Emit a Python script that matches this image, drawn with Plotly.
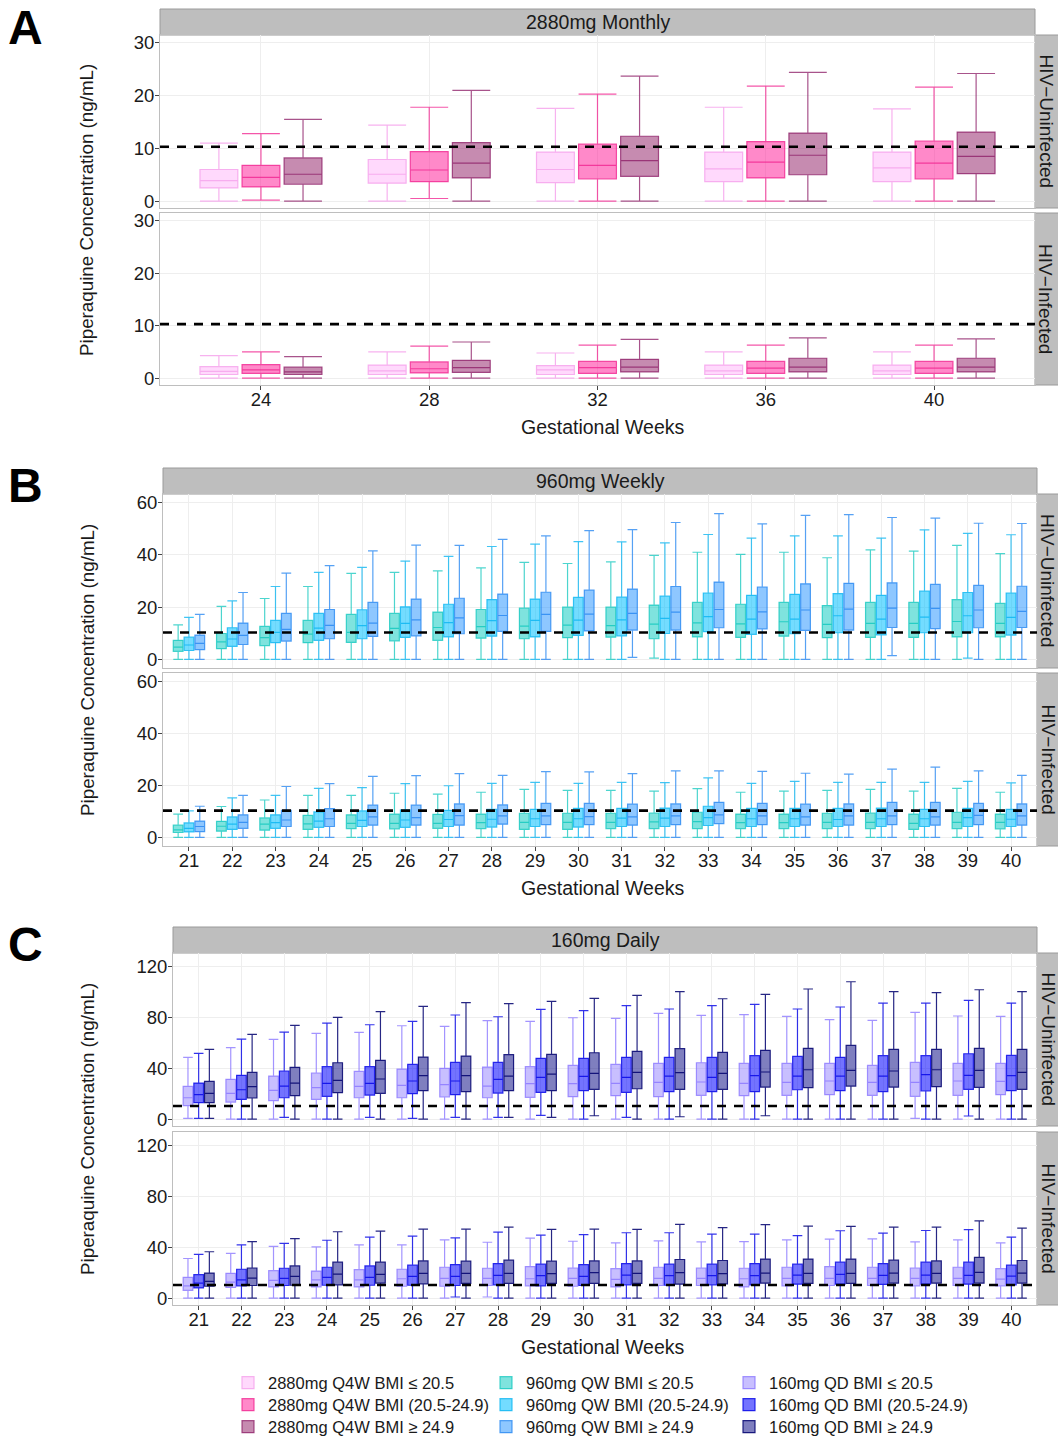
import plotly.graph_objects as go

# ---------------- DATA (lower whisker, q1, median, q3, upper whisker) ----------------
A_weeks = ["24", "28", "32", "36", "40"]
BC_weeks = [str(w) for w in range(21, 41)]

A_unin_bmi1 = [(0, 2.5, 3.9, 6.0, 11.0), (0, 3.4, 5.1, 7.9, 14.4), (0, 3.5, 6.0, 9.3, 17.6), (0, 3.7, 6.1, 9.3, 17.8), (0, 3.7, 6.3, 9.3, 17.5)]
A_unin_bmi2 = [(0.2, 2.7, 4.5, 6.8, 12.8), (0.5, 3.7, 5.9, 9.4, 17.8), (0, 4.2, 6.8, 10.8, 20.3), (0, 4.4, 7.4, 11.3, 21.8), (0, 4.2, 7.2, 11.4, 21.6)]
A_unin_bmi3 = [(0, 3.2, 5.1, 8.2, 15.5), (0, 4.4, 7.2, 11.1, 21.0), (0, 4.7, 7.7, 12.3, 23.7), (0, 5.0, 8.7, 12.9, 24.4), (0, 5.2, 8.5, 13.1, 24.2)]
A_inf_bmi1 = [(0, 0.7, 1.3, 2.2, 4.3), (0, 0.7, 1.4, 2.5, 5.0), (0, 0.7, 1.6, 2.4, 4.8), (0, 0.7, 1.4, 2.5, 5.0), (0, 0.7, 1.4, 2.5, 5.0)]
A_inf_bmi2 = [(0, 0.9, 1.6, 2.6, 5.0), (0, 1.0, 1.8, 3.1, 6.1), (0, 0.9, 2.0, 3.2, 6.3), (0, 0.9, 1.9, 3.2, 6.3), (0, 0.9, 1.9, 3.2, 6.3)]
A_inf_bmi3 = [(0, 0.7, 1.2, 2.1, 4.1), (0, 1.1, 2.0, 3.4, 6.9), (0, 1.2, 2.1, 3.6, 7.4), (0, 1.2, 2.1, 3.8, 7.7), (0, 1.2, 2.1, 3.8, 7.5)]

B_unin_bmi1 = [(0, 3.1, 4.7, 7.3, 13.2), (0, 4.1, 6.7, 9.9, 20.3), (0, 5.3, 8.3, 12.6, 23.3), (0, 6.4, 9.7, 14.9, 27.9),
               (0, 6.5, 10.3, 17.2, 32.9), (0, 7.1, 11.9, 17.6, 33.3), (0, 7.3, 12.2, 18.1, 33.9), (0, 8.1, 12.5, 19.1, 35.0),
               (0, 7.9, 12.7, 19.6, 37.1), (0, 8.3, 13.1, 20.0, 36.7), (0, 8.5, 12.9, 20.0, 37.3), (0.5, 7.9, 13.5, 20.8, 39.8),
               (0, 8.6, 14.0, 21.8, 41.0), (0, 8.4, 13.6, 21.1, 40.2), (0, 8.9, 14.4, 21.8, 41.0), (0, 8.3, 13.4, 20.6, 38.9),
               (0, 8.4, 13.8, 21.8, 41.9), (0, 8.4, 13.8, 21.8, 41.4), (0, 8.6, 14.5, 22.9, 43.6), (0, 8.6, 13.8, 21.4, 40.5)]
B_unin_bmi2 = [(0, 3.4, 5.5, 8.5, 16.1), (0, 5.0, 7.8, 12.1, 22.4), (0, 6.4, 10.3, 14.9, 27.9), (0, 7.3, 12.0, 17.6, 33.3),
               (0, 7.9, 12.9, 19.0, 35.2), (0, 8.4, 13.8, 20.1, 37.6), (0, 8.6, 14.1, 21.1, 39.4), (0, 8.9, 14.8, 22.9, 43.2),
               (0, 8.6, 14.9, 23.1, 44.1), (0, 9.2, 15.0, 23.7, 45.1), (0, 9.0, 15.1, 23.8, 45.0), (0, 9.9, 15.7, 24.2, 44.6),
               (0, 10.6, 16.4, 25.4, 47.8), (0, 9.6, 15.4, 24.5, 46.4), (0, 9.8, 15.4, 24.9, 47.3), (0, 10.2, 16.7, 25.2, 47.3),
               (0, 9.4, 15.4, 24.5, 46.4), (0, 10.2, 16.2, 26.1, 49.6), (0.5, 10.2, 16.7, 25.6, 48.2), (0, 9.3, 16.1, 25.4, 47.7)]
B_unin_bmi3 = [(0, 3.7, 6.1, 9.3, 17.2), (0, 5.7, 9.2, 13.9, 25.6), (0, 7.0, 11.5, 17.6, 33.0), (0, 7.9, 13.0, 19.1, 35.9),
               (0, 8.8, 13.9, 21.8, 41.5), (0, 9.0, 15.1, 23.1, 43.7), (0, 9.8, 15.9, 23.4, 43.6), (0, 10.7, 16.8, 25.0, 45.9),
               (0, 10.7, 17.2, 25.7, 47.3), (0, 10.9, 17.3, 26.5, 49.3), (0.8, 11.2, 17.6, 26.9, 49.7), (0, 11.2, 18.1, 27.9, 52.4),
               (0, 12.1, 19.1, 29.6, 55.8), (0, 11.7, 18.2, 27.7, 51.9), (0, 11.1, 18.9, 28.9, 55.1), (0, 11.2, 19.2, 29.1, 55.4),
               (1.4, 12.2, 19.6, 29.3, 54.3), (0, 11.8, 19.5, 28.7, 54.1), (0, 12.1, 18.9, 28.3, 52.1), (0, 12.2, 18.4, 28.0, 52.0)]
B_inf_bmi1 = [(0, 1.9, 2.9, 4.7, 9.0), (0, 2.4, 4.3, 6.2, 11.9), (0, 2.8, 5.1, 7.5, 14.4), (0, 3.1, 5.2, 8.5, 16.2),
              (0, 3.4, 5.4, 8.7, 16.2), (0, 3.3, 5.4, 9.0, 17.0), (0, 3.5, 5.4, 8.9, 16.7), (0, 3.4, 5.7, 9.0, 17.4),
              (0, 3.1, 5.8, 9.3, 18.5), (0, 3.1, 5.8, 9.3, 18.1), (0, 3.4, 5.8, 9.3, 18.1), (0, 3.4, 6.0, 9.4, 17.8),
              (0, 3.4, 6.1, 9.7, 18.8), (0, 3.4, 5.7, 9.0, 17.4), (0, 3.4, 5.7, 9.0, 17.8), (0, 3.4, 5.8, 9.3, 18.1),
              (0, 3.4, 5.8, 9.4, 18.5), (0, 3.1, 5.4, 9.0, 17.8), (0, 3.4, 5.8, 9.7, 18.9), (0, 3.3, 5.8, 9.0, 17.4)]
B_inf_bmi2 = [(0, 2.1, 3.5, 5.6, 10.2), (0, 3.1, 5.1, 7.9, 15.2), (0, 3.5, 5.7, 8.7, 16.2), (0, 3.9, 6.3, 9.8, 18.9),
              (0, 4.2, 6.6, 10.2, 19.2), (0, 3.9, 6.7, 10.6, 20.7), (0, 4.2, 6.9, 10.4, 19.9), (0, 4.0, 7.0, 10.8, 20.8),
              (0, 4.2, 7.2, 10.8, 21.2), (0, 4.0, 7.2, 11.2, 20.8), (0, 4.2, 7.4, 11.2, 21.2), (0, 4.2, 7.4, 11.3, 21.1),
              (0, 4.6, 7.6, 12.0, 22.9), (0, 4.2, 7.2, 11.2, 20.8), (0, 4.2, 7.2, 11.2, 21.6), (0, 4.2, 6.9, 11.2, 21.2),
              (0, 4.2, 7.2, 11.3, 21.2), (0, 4.2, 7.2, 10.8, 21.2), (0, 4.2, 7.6, 11.2, 21.6), (0, 4.2, 7.0, 10.8, 21.0)]
B_inf_bmi3 = [(0, 2.2, 4.2, 6.3, 12.0), (0, 3.5, 5.8, 8.7, 16.2), (0, 4.2, 6.7, 10.4, 19.6), (0, 4.2, 7.2, 11.1, 20.7),
              (0, 4.7, 7.9, 12.4, 23.5), (0, 4.7, 7.6, 12.4, 23.8), (0, 4.7, 8.4, 12.9, 24.6), (0, 5.1, 8.3, 12.5, 23.9),
              (0, 4.9, 8.3, 13.1, 25.3), (0, 4.9, 8.0, 13.1, 25.2), (0, 4.7, 7.9, 12.8, 24.6), (0, 4.9, 8.3, 12.9, 25.6),
              (0, 5.3, 8.7, 13.5, 25.6), (0, 4.9, 8.3, 13.1, 25.4), (0, 4.7, 7.9, 12.8, 24.7), (0, 4.7, 8.3, 12.9, 24.4),
              (0, 4.9, 8.3, 13.5, 26.3), (0, 4.7, 7.9, 13.5, 27.1), (0, 4.9, 8.5, 13.1, 25.6), (0, 4.7, 8.3, 12.9, 23.9)]

C_unin_bmi1 = [(0.5, 10.5, 16.8, 25.8, 48.7), (0, 13.4, 20.3, 31.3, 56.3), (0, 14.5, 22.6, 33.9, 62.9), (0, 15.5, 24.7, 36.3, 67.6),
               (0, 16.8, 25.8, 37.6, 68.4), (0, 16.8, 26.6, 39.4, 73.6), (0, 17.4, 27.1, 40.0, 73.1), (0, 16.8, 26.0, 41.0, 77.6),
               (0, 17.1, 27.9, 41.3, 77.1), (0, 17.6, 27.9, 42.3, 79.9), (0, 18.4, 28.1, 43.1, 79.4), (0, 17.6, 28.9, 43.9, 83.4),
               (0, 18.7, 29.2, 44.4, 81.8), (0, 18.4, 28.1, 43.9, 82.3), (0, 18.7, 28.9, 43.9, 81.0), (0, 19.2, 30.0, 43.9, 78.4),
               (0, 18.7, 28.9, 42.3, 77.8), (0.5, 17.9, 28.9, 44.7, 84.2), (0, 18.7, 30.0, 43.9, 81.3), (0, 19.2, 29.7, 43.9, 81.0)]
C_unin_bmi2 = [(0.5, 12.9, 19.2, 28.4, 51.8), (0, 15.5, 23.1, 34.5, 63.1), (1.3, 16.8, 26.0, 37.9, 68.6), (0, 17.9, 28.1, 41.3, 75.7),
               (1.3, 18.9, 28.1, 41.3, 74.4), (0.5, 20.0, 30.0, 43.1, 77.1), (1.3, 19.2, 30.0, 44.7, 82.1), (1.3, 20.5, 31.3, 44.7, 80.7),
               (2.9, 21.0, 32.9, 47.9, 86.5), (0, 22.4, 33.7, 47.9, 85.5), (1.3, 21.0, 32.9, 48.7, 89.4), (0, 21.6, 33.9, 48.7, 86.8),
               (0, 21.6, 32.9, 48.7, 89.4), (0, 21.6, 34.2, 50.0, 90.5), (0, 23.1, 33.9, 49.4, 86.8), (0, 22.4, 33.9, 48.7, 88.4),
               (0, 21.6, 33.9, 50.0, 91.5), (0, 22.1, 35.0, 50.0, 91.5), (2.4, 23.4, 34.5, 51.5, 93.6), (0, 22.4, 34.2, 50.2, 91.5)]
C_unin_bmi3 = [(0.5, 12.9, 20.3, 29.7, 55.0), (0, 16.6, 25.5, 36.8, 66.8), (0, 18.4, 28.4, 40.8, 73.9), (0, 20.8, 30.5, 44.4, 80.2),
               (0, 20.3, 31.6, 46.3, 84.7), (0, 22.4, 34.2, 48.9, 88.9), (0, 21.6, 34.2, 49.7, 91.8), (1.3, 22.4, 33.9, 50.8, 91.0),
               (1.3, 22.4, 35.5, 51.0, 92.8), (2.6, 23.4, 36.0, 52.3, 95.2), (0, 23.9, 36.8, 53.4, 97.6), (1.8, 23.4, 36.6, 55.5, 100.5),
               (0, 23.4, 36.0, 52.6, 94.9), (2.6, 25.2, 37.1, 54.2, 98.4), (0, 24.7, 38.9, 55.8, 102.6), (0, 26.0, 38.4, 58.1, 108.3),
               (0, 25.2, 37.9, 55.0, 100.5), (0, 25.5, 38.9, 55.0, 99.7), (0, 25.0, 38.4, 55.8, 102.0), (0, 23.4, 36.8, 55.0, 100.5)]
C_inf_bmi1 = [(0, 6.1, 9.6, 16.3, 31.2), (0, 8.3, 12.5, 19.5, 35.2), (0, 8.8, 13.9, 21.6, 40.8), (0, 8.8, 14.4, 21.3, 40.3),
              (0, 8.8, 14.4, 22.4, 41.9), (0, 9.3, 15.2, 22.7, 41.9), (0, 9.3, 15.5, 24.3, 45.9), (0.8, 9.9, 15.5, 23.5, 44.0),
              (0, 9.6, 15.2, 24.8, 47.2), (0, 9.3, 15.5, 23.7, 44.8), (0, 8.8, 14.7, 23.2, 43.5), (0, 9.9, 15.5, 24.3, 45.1),
              (0, 9.9, 15.5, 23.7, 44.3), (0, 8.8, 15.2, 23.5, 44.5), (0, 9.6, 15.5, 24.3, 45.9), (0, 9.9, 15.5, 24.8, 46.4),
              (0, 9.9, 15.5, 24.3, 46.7), (0, 9.6, 15.5, 23.7, 44.3), (0, 9.9, 15.5, 24.3, 45.9), (0, 9.6, 14.9, 23.2, 43.5)]
C_inf_bmi2 = [(0, 8.0, 11.7, 18.4, 34.4), (0, 9.6, 14.4, 22.7, 41.9), (0, 9.9, 15.5, 23.5, 43.2), (0, 10.1, 16.3, 24.3, 45.6),
              (0, 10.1, 16.3, 25.3, 48.0), (0, 10.1, 17.1, 25.9, 48.8), (0.8, 9.9, 17.1, 26.4, 47.5), (0, 10.4, 17.9, 27.2, 52.0),
              (0, 9.6, 17.6, 26.7, 49.6), (0, 9.9, 17.1, 26.4, 50.1), (0, 10.4, 18.1, 27.2, 51.5), (0, 10.1, 17.6, 26.7, 51.5),
              (0, 10.4, 17.6, 26.7, 50.4), (0, 10.4, 17.6, 27.2, 50.4), (0, 10.9, 18.1, 26.7, 49.3), (0, 10.9, 18.7, 28.3, 53.1),
              (0, 10.7, 17.9, 27.2, 51.2), (0, 10.9, 18.1, 28.3, 53.3), (0, 10.9, 17.9, 28.3, 53.9), (0, 10.4, 17.3, 25.9, 48.0)]
C_inf_bmi3 = [(0, 9.3, 13.1, 19.7, 36.5), (0, 9.9, 15.7, 23.7, 44.5), (0, 10.1, 17.1, 25.3, 46.9), (0, 10.4, 18.9, 28.3, 52.3),
              (0, 11.7, 18.7, 28.3, 52.8), (0, 11.2, 19.5, 29.3, 54.4), (0, 11.5, 19.5, 29.1, 54.4), (0, 11.5, 19.5, 29.9, 56.0),
              (0, 11.5, 19.2, 29.1, 54.1), (0, 11.5, 20.0, 29.3, 54.4), (0, 11.5, 19.5, 29.3, 54.1), (0, 10.9, 20.0, 30.4, 58.1),
              (0, 11.2, 19.2, 29.6, 55.5), (0, 11.7, 19.7, 30.7, 57.9), (0, 11.5, 19.5, 30.7, 56.8), (0, 11.5, 19.5, 30.7, 56.5),
              (0, 11.7, 19.7, 29.9, 56.0), (0, 11.7, 19.5, 29.3, 56.0), (0, 11.7, 20.3, 32.0, 60.8), (0, 11.7, 19.7, 29.6, 55.2)]

A_names = ["2880mg Q4W BMI ≤ 20.5", "2880mg Q4W BMI (20.5-24.9)", "2880mg Q4W BMI ≥ 24.9"]
B_names = ["960mg QW BMI ≤ 20.5", "960mg QW BMI (20.5-24.9)", "960mg QW BMI ≥ 24.9"]
C_names = ["160mg QD BMI ≤ 20.5", "160mg QD BMI (20.5-24.9)", "160mg QD BMI ≥ 24.9"]
panel_titles = ["2880mg Monthly", "960mg Weekly", "160mg Daily"]
facet_labels = ["HIV−Uninfected", "HIV−Infected"]
threshold = 10.3
A_yticks = [0, 10, 20, 30]
B_yticks = [0, 20, 40, 60]
C_yticks = [0, 40, 80, 120]

# ---------------- STYLE ----------------
W, H = 1058, 1439
FONT = "Liberation Sans, Arial, Helvetica, sans-serif"
TXT = "#1a1a1a"
TICK_FS = 18.5
TITLE_FS = 19.5

A_colors = [("rgba(255,180,250,0.5)", "rgba(246,165,236,0.85)"),
            ("rgba(255,20,147,0.5)", "rgba(240,30,140,0.75)"),
            ("rgba(141,23,97,0.5)", "rgba(139,26,100,0.75)")]
B_colors = [("rgba(0,200,190,0.5)", "rgba(0,195,185,0.7)"),
            ("rgba(0,191,255,0.55)", "rgba(0,178,240,0.75)"),
            ("rgba(30,144,255,0.5)", "rgba(30,130,240,0.75)")]
C_colors = [("rgba(132,112,255,0.45)", "rgba(132,112,255,0.75)"),
            ("rgba(0,0,255,0.55)", "rgba(0,0,230,0.8)"),
            ("rgba(0,0,128,0.5)", "rgba(0,0,110,0.85)")]

panels = [
    dict(weeks=A_weeks, data=[[A_unin_bmi1, A_unin_bmi2, A_unin_bmi3], [A_inf_bmi1, A_inf_bmi2, A_inf_bmi3]],
         names=A_names, colors=A_colors, yticks=A_yticks, yrange=[-1.3, 31.5],
         x=(160, 1035), ys=[(35, 208), (213, 385)], strip=(9, 35)),
    dict(weeks=BC_weeks, data=[[B_unin_bmi1, B_unin_bmi2, B_unin_bmi3], [B_inf_bmi1, B_inf_bmi2, B_inf_bmi3]],
         names=B_names, colors=B_colors, yticks=B_yticks, yrange=[-3.3, 63.3],
         x=(163, 1037), ys=[(494, 668), (673, 846)], strip=(468, 494)),
    dict(weeks=BC_weeks, data=[[C_unin_bmi1, C_unin_bmi2, C_unin_bmi3], [C_inf_bmi1, C_inf_bmi2, C_inf_bmi3]],
         names=C_names, colors=C_colors, yticks=C_yticks, yrange=[-5.5, 131],
         x=(173, 1037), ys=[(953, 1126), (1132, 1305)], strip=(927, 953)),
]
legend_text_x = [268, 526, 769]     # pixel x where legend text starts, per column (panel)
legend_row_y = [1383, 1405, 1427]   # pixel y of legend rows (BMI group)

fig = go.Figure()
layout = dict(width=W, height=H, margin=dict(l=0, r=0, t=0, b=0, autoexpand=False),
              paper_bgcolor="white", plot_bgcolor="white",
              boxmode="group", boxgap=0.25, boxgroupgap=0.1, font=dict(family=FONT, color=TXT, size=17))
shapes, annotations = [], []

ax = 0
for pi, p in enumerate(panels):
    x0, x1 = p["x"]
    for fi, (y0, y1) in enumerate(p["ys"]):
        ax += 1
        xs = "" if ax == 1 else str(ax)
        bottom = fi == 1
        layout["xaxis" + xs] = dict(domain=[x0 / W, x1 / W], anchor="y" + xs, type="category",
                                    categoryorder="array", categoryarray=p["weeks"],
                                    range=[-0.6, len(p["weeks"]) - 0.4], showgrid=True, gridcolor="#EEEEEE",
                                    gridwidth=1, showline=True, linecolor="#BEBEBE", linewidth=1, mirror=True,
                                    ticks="outside" if bottom else "", ticklen=4, tickcolor="#444444",
                                    ticklabelstandoff=-6,
                                    showticklabels=bottom, tickfont=dict(size=TICK_FS, color=TXT), zeroline=False)
        layout["yaxis" + xs] = dict(domain=[1 - y1 / H, 1 - y0 / H], anchor="x" + xs, range=p["yrange"],
                                    tickvals=p["yticks"], showgrid=True, gridcolor="#EEEEEE", gridwidth=1,
                                    showline=True, linecolor="#BEBEBE", linewidth=1, mirror=True,
                                    ticks="outside", ticklen=4, tickcolor="#444444", ticklabelstandoff=-3,
                                    tickfont=dict(size=TICK_FS, color=TXT), zeroline=False)
        for gi, rows in enumerate(p["data"][fi]):
            fill, line = p["colors"][gi]
            leg_n = pi * 3 + gi + 1
            leg_id = "legend" if leg_n == 1 else "legend%d" % leg_n
            fig.add_trace(go.Box(
                x=p["weeks"],
                lowerfence=[r[0] for r in rows], q1=[r[1] for r in rows], median=[r[2] for r in rows],
                q3=[r[3] for r in rows], upperfence=[r[4] for r in rows],
                name=p["names"][gi], legendgroup=p["names"][gi], showlegend=(fi == 0), legend=leg_id,
                fillcolor=fill, line=dict(color=line, width=1.2), whiskerwidth=1, boxpoints=False,
                xaxis="x" + xs, yaxis="y" + xs, offsetgroup=str(gi)))
            if fi == 0:
                layout[leg_id] = dict(x=(legend_text_x[pi] - 40) / W, y=1 - legend_row_y[gi] / H,
                                      xanchor="left", yanchor="middle", bgcolor="rgba(0,0,0,0)",
                                      font=dict(size=16.5, color=TXT), itemwidth=30)
        # threshold dashed line
        shapes.append(dict(type="line", xref="x" + xs + " domain", x0=0, x1=1, yref="y" + xs,
                           y0=threshold, y1=threshold, line=dict(color="black", width=2.6, dash="9px,8px")))
        # right strip
        shapes.append(dict(type="rect", xref="paper", yref="paper", x0=x1 / W, x1=1.01,
                           y0=1 - y1 / H, y1=1 - y0 / H, fillcolor="#BEBEBE", line=dict(color="#9A9A9A", width=1),
                           layer="below"))
        annotations.append(dict(text=facet_labels[fi], xref="paper", yref="paper", x=(x1 + 11) / W,
                                y=1 - (y0 + y1) / 2 / H, textangle=90, showarrow=False,
                                font=dict(size=19, color=TXT), xanchor="center", yanchor="middle"))
    # top strip
    s0, s1 = p["strip"]
    shapes.append(dict(type="rect", xref="paper", yref="paper", x0=x0 / W, x1=x1 / W, y0=1 - s1 / H, y1=1 - s0 / H,
                       fillcolor="#BEBEBE", line=dict(color="#9A9A9A", width=1), layer="below"))
    annotations.append(dict(text=panel_titles[pi], xref="paper", yref="paper", x=(x0 + x1) / 2 / W,
                            y=1 - (s0 + s1) / 2 / H, showarrow=False, font=dict(size=TITLE_FS, color=TXT),
                            xanchor="center", yanchor="middle"))
    # y title
    ytop, ybot = p["ys"][0][0], p["ys"][1][1]
    annotations.append(dict(text="Piperaquine Concentration (ng/mL)", xref="paper", yref="paper", x=87 / W,
                            y=1 - (ytop + ybot) / 2 / H, textangle=-90, showarrow=False,
                            font=dict(size=18.8, color=TXT), xanchor="center", yanchor="middle"))
    # x title
    annotations.append(dict(text="Gestational Weeks", xref="paper", yref="paper", x=603 / W,
                            y=1 - (ybot + 42) / H, showarrow=False, font=dict(size=TITLE_FS, color=TXT),
                            xanchor="center", yanchor="middle"))
    # panel letter (kept inside the page)
    letter_top = max(s0 - 10, 0)
    annotations.append(dict(text="<b>" + "ABC"[pi] + "</b>", xref="paper", yref="paper", x=25 / W,
                            y=1 - letter_top / H, showarrow=False, font=dict(size=48, color="black"),
                            borderpad=0, xanchor="center", yanchor="top"))

layout["shapes"] = shapes
layout["annotations"] = annotations
fig.update_layout(**layout)
fig.write_html("out.html", config={"displayModeBar": False},
               post_script="document.body.style.margin='0px';document.body.style.overflow='hidden';")
